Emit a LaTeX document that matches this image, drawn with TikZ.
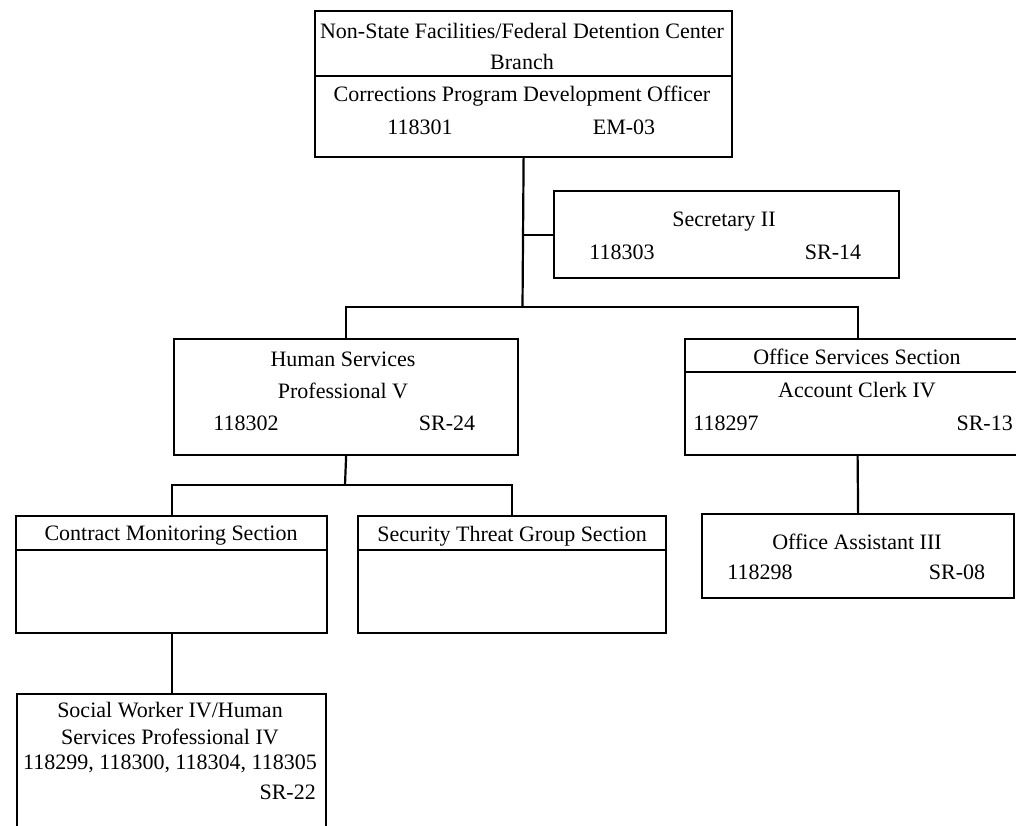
\documentclass[tikz,border=0pt]{standalone}
\usepackage{fontspec}
\setmainfont{Liberation Serif}
\usepackage{tikz}
\usetikzlibrary{positioning,calc}
\tikzset{
  orgbox/.style={rectangle,draw=black,line width=2.2pt,anchor=north west,inner sep=0pt},
  orgtext/.style={font=\fontsize{22}{26}\selectfont,inner sep=0pt,text=black},
  orgline/.style={line width=2.2pt,color=black},
}

\begin{document}
\begin{tikzpicture}[x=1pt,y=-1pt]
  \clip (0,0) rectangle (1016,825);
  \useasboundingbox (0,0) rectangle (1016,825);

  % boxes
  \node[orgbox, minimum width=417pt, minimum height=146pt] (brn) at (314,10) {};
  \node[orgbox, minimum width=345pt, minimum height=87pt]  (sec) at (553,190) {};
  \node[orgbox, minimum width=344pt, minimum height=116pt] (hsp) at (173,338) {};
  \node[orgbox, minimum width=345pt, minimum height=116pt] (osv) at (684,338) {};
  \node[orgbox, minimum width=312pt, minimum height=84pt]  (oas) at (701,513) {};
  \node[orgbox, minimum width=311pt, minimum height=117pt] (cms) at (15,515) {};
  \node[orgbox, minimum width=308pt, minimum height=117pt] (stg) at (357,515) {};
  \node[orgbox, minimum width=309pt, minimum height=150pt] (sw)  at (16,693) {};

  % dividers
  \draw[orgline] (brn.west |- 0,76) -- (brn.east |- 0,76);
  \draw[orgline] (osv.west |- 0,372) -- (osv.east |- 0,372);
  \draw[orgline] (cms.west |- 0,550) -- (cms.east |- 0,550);
  \draw[orgline] (stg.west |- 0,550) -- (stg.east |- 0,550);

  % texts
  \node[orgtext] (brnA) at (522,31) {Non-State Facilities/Federal Detention Center};
  \node[orgtext] (brnB) at (522,62) {Branch};
  \node[orgtext] (brnC) at (522,96) {Corrections Program Development Officer};
  \node[orgtext] (brnD) at (420,127) {118301};
  \node[orgtext] (brnE) at (624,127) {EM-03};

  \node[orgtext] (secA) at (724,222) {Secretary II};
  \node[orgtext] (secB) at (622,252) {118303};
  \node[orgtext] (secC) at (833,252) {SR-14};

  \node[orgtext] (hspA) at (343,359) {Human Services};
  \node[orgtext] (hspB) at (343,391) {Professional V};
  \node[orgtext] (hspC) at (246,423) {118302};
  \node[orgtext] (hspD) at (447,423) {SR-24};

  \node[orgtext] (osvA) at (857,357) {Office Services Section};
  \node[orgtext] (osvB) at (857,390) {Account Clerk IV};
  \node[orgtext] (osvC) at (726,423) {118297};
  \node[orgtext, anchor=east] (osvD) at (1013,423) {SR-13};

  \node[orgtext] (oasA) at (857,542) {Office Assistant III};
  \node[orgtext] (oasB) at (760,572) {118298};
  \node[orgtext] (oasC) at (957,572) {SR-08};

  \node[orgtext] (cmsA) at (171,536) {Contract Monitoring Section};
  \node[orgtext] (stgA) at (512,536) {Security Threat Group Section};

  \node[orgtext] (swA) at (170,710) {Social Worker IV/Human};
  \node[orgtext] (swB) at (170,737) {Services Professional IV};
  \node[orgtext] (swC) at (170,764) {118299, 118300, 118304, 118305};
  \node[orgtext, anchor=east] (swD) at (316,792) {SR-22};

  % connectors
  \coordinate (jn1) at (522.5,307);
  \coordinate (jn2) at (345,485);
  \draw[orgline] (brn.south) -- (jn1);
  \draw[orgline] (sec.west) -- (sec.west -| brn.south);
  \draw[orgline] (hsp.north) |- (jn1) -| (osv.north);
  \draw[orgline] (hsp.south) -- (jn2);
  \draw[orgline] (cms.north) |- (jn2) -| (stg.north);
  \draw[orgline] (osv.south) -- (oas.north);
  \draw[orgline] (cms.south) -- (sw.north);
\end{tikzpicture}
\end{document}
